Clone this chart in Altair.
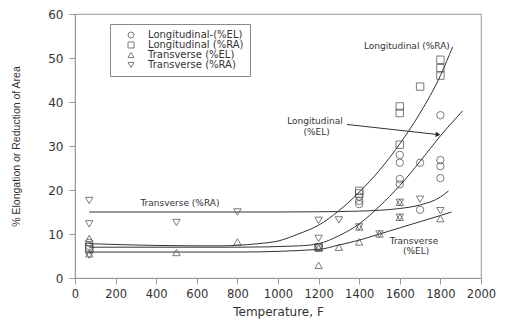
import altair as alt
import pandas as pd

# ---------------- data ----------------
series_names = ["Longitudinal-(%EL)", "Longitudinal (%RA)", "Transverse (%EL)", "Transverse (%RA)"]
series_shapes = ["circle", "square", "triangle-up", "triangle-down"]

long_el_x = [70, 70, 1200, 1400, 1400, 1400, 1600, 1600, 1600, 1600, 1700, 1700, 1800, 1800, 1800, 1800]
long_el_y = [8.0, 7.3, 7.0, 18.5, 17.5, 16.8, 28.0, 26.2, 22.5, 21.3, 26.2, 15.5, 37.0, 26.8, 25.4, 22.7]

long_ra_x = [70, 70, 1200, 1400, 1400, 1600, 1600, 1600, 1700, 1800, 1800, 1800]
long_ra_y = [6.5, 7.0, 7.0, 19.8, 19.2, 39.0, 37.5, 30.3, 43.5, 49.6, 47.7, 46.0]

trans_el_x = [70, 70, 500, 800, 1200, 1200, 1300, 1400, 1400, 1500, 1600, 1600, 1800]
trans_el_y = [9.0, 5.5, 5.8, 8.2, 6.8, 2.9, 7.0, 11.6, 8.2, 10.0, 17.2, 13.8, 13.5]

trans_ra_x = [70, 70, 70, 500, 800, 1200, 1200, 1200, 1300, 1400, 1500, 1600, 1600, 1700, 1800]
trans_ra_y = [17.6, 12.3, 5.2, 12.6, 15.0, 13.1, 9.0, 6.8, 13.2, 11.6, 10.0, 17.2, 13.8, 17.9, 15.3]

# fitted curves
c_long_ra_x = [70, 400, 700, 900, 1000, 1100, 1200, 1300, 1400, 1500, 1600, 1700, 1800, 1860]
c_long_ra_y = [7.8, 7.4, 7.3, 7.8, 8.4, 10.0, 12.0, 15.3, 19.5, 24.5, 30.5, 37.5, 46.0, 52.5]

c_long_el_x = [70, 800, 1100, 1200, 1300, 1400, 1500, 1600, 1700, 1800, 1910]
c_long_el_y = [7.0, 7.0, 7.3, 7.8, 9.6, 12.3, 16.3, 21.0, 26.5, 32.3, 38.0]

c_trans_ra_x = [70, 1000, 1200, 1400, 1600, 1700, 1800, 1840]
c_trans_ra_y = [15.0, 15.0, 15.05, 15.2, 15.8, 16.6, 18.4, 19.8]

c_trans_el_x = [70, 800, 1200, 1300, 1400, 1500, 1600, 1700, 1800, 1855]
c_trans_el_y = [5.9, 5.9, 6.5, 7.5, 8.6, 10.0, 11.4, 12.8, 14.2, 15.0]

ann_text = ["Longitudinal (%RA)", "Longitudinal", "(%EL)", "Transverse (%RA)", "Transverse", "(%EL)"]
ann_x = [1635, 1182, 1190, 517, 1670, 1680]
ann_y = [52.7, 35.6, 33.2, 17.0, 8.5, 6.2]

arrow_x = [1340]
arrow_x2 = [1788]
arrow_y = [34.9]
arrow_y2 = [32.6]

# ---------------- build tables ----------------
pts = pd.concat([
    pd.DataFrame({"T": long_el_x, "V": long_el_y, "S": series_names[0]}),
    pd.DataFrame({"T": long_ra_x, "V": long_ra_y, "S": series_names[1]}),
    pd.DataFrame({"T": trans_el_x, "V": trans_el_y, "S": series_names[2]}),
    pd.DataFrame({"T": trans_ra_x, "V": trans_ra_y, "S": series_names[3]}),
], ignore_index=True)

curves = pd.concat([
    pd.DataFrame({"T": c_long_ra_x, "V": c_long_ra_y, "C": "lra"}),
    pd.DataFrame({"T": c_long_el_x, "V": c_long_el_y, "C": "lel"}),
    pd.DataFrame({"T": c_trans_ra_x, "V": c_trans_ra_y, "C": "tra"}),
    pd.DataFrame({"T": c_trans_el_x, "V": c_trans_el_y, "C": "tel"}),
], ignore_index=True)

ann = pd.DataFrame({"T": ann_x, "V": ann_y, "L": ann_text})
arr = pd.DataFrame({"x": arrow_x, "x2": arrow_x2, "y": arrow_y, "y2": arrow_y2})

FONT = "DejaVu Sans"
xs = alt.Scale(domain=[0, 2000], nice=False)
ys = alt.Scale(domain=[0, 60], nice=False)

xenc = alt.X("T:Q", scale=xs, axis=alt.Axis(
    title="Temperature, F", values=list(range(0, 2001, 200)), format="d",
    labelOverlap=False, labelFlush=False, titleY=33, titleBaseline="middle"))
yenc = alt.Y("V:Q", scale=ys, axis=alt.Axis(
    title="% Elongation or Reduction of Area", values=list(range(0, 61, 10)),
    labelOverlap=False, labelFlush=False,
    titleX=-59, titleY=132, titleBaseline="middle", titleAngle=270,
    titleFont="Liberation Sans", titleFontSize=10.5))

lines = alt.Chart(curves).mark_line(color="#333", strokeWidth=1, interpolate="monotone").encode(
    x=xenc, y=yenc, detail="C:N")

points = alt.Chart(pts).mark_point(filled=False, color="#444", strokeWidth=1, size=55).encode(
    x="T:Q", y="V:Q",
    shape=alt.Shape("S:N", scale=alt.Scale(domain=series_names, range=series_shapes),
                    legend=alt.Legend(title=None, orient="none", legendX=35, legendY=10,
                                      strokeColor="#888", padding=6, rowPadding=0,
                                      labelFont=FONT, labelFontSize=10, labelColor="#333",
                                      symbolSize=36, symbolStrokeWidth=1, symbolStrokeColor="#444",
                                      symbolOffset=10, labelOffset=12)),
)

texts = alt.Chart(ann).mark_text(font=FONT, fontSize=9, color="#333").encode(
    x="T:Q", y="V:Q", text="L:N")

arrow_line = alt.Chart(arr).mark_rule(color="#333", strokeWidth=1).encode(
    x="x:Q", x2="x2:Q", y="y:Q", y2="y2:Q")
arrow_head = alt.Chart(arr).mark_point(shape="triangle-right", filled=True, color="#222",
                                       size=28, angle=6, opacity=1).encode(x="x2:Q", y="y2:Q")

chart = alt.layer(lines, points, texts, arrow_line, arrow_head).properties(
    width=406, height=264,
    autosize=alt.AutoSizeParams(type="none"),
    padding={"left": 67, "top": 6, "right": 17, "bottom": 42},
).configure_view(stroke="#aaa", strokeWidth=1.2).configure_axis(
    grid=False, domainColor="#999", tickColor="#999", tickSize=6,
    labelFont=FONT, labelFontSize=11.5, labelColor="#333", labelPadding=4,
    titleFont=FONT, titleFontSize=12, titleColor="#333", titleFontWeight="normal",
).configure_axisY(labelPadding=6, labelFontSize=12)

chart.save("out.html", embed_options={"renderer": "svg", "actions": False})
